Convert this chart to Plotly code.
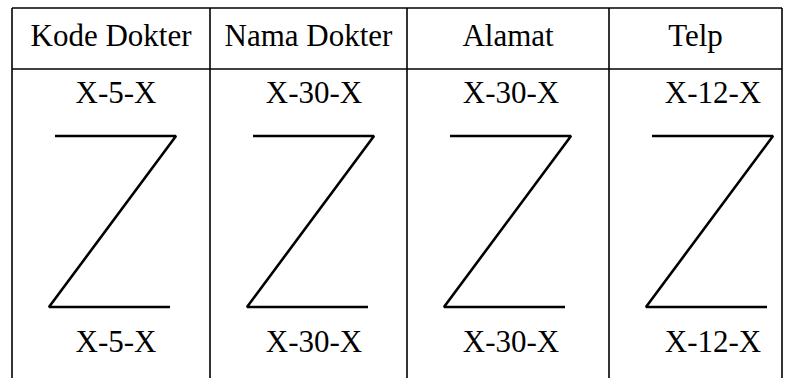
import plotly.graph_objects as go

# Data: field names and their sizes in the record layout
fields = ["Kode Dokter", "Nama Dokter", "Alamat", "Telp"]
sizes = [5, 30, 30, 12]
labels = ["X-%d-X" % s for s in sizes]

# Layout geometry (pixel space)
col_edges = [12, 210, 407, 609, 782]
top_y = 8
header_y = 69
bottom_y = 378

line_col = "#000000"
font = dict(family="Liberation Serif, Times New Roman, serif", size=31, color="#000000")

fig = go.Figure()

# table grid
grid_x, grid_y = [], []
grid_x += [col_edges[0], col_edges[-1], None, col_edges[0], col_edges[-1], None]
grid_y += [top_y, top_y, None, header_y, header_y, None]
for x in col_edges:
    grid_x += [x, x, None]
    grid_y += [top_y, bottom_y, None]
fig.add_trace(go.Scatter(x=grid_x, y=grid_y, mode="lines",
                         line=dict(color=line_col, width=1.6), hoverinfo="skip"))

# Z shapes in every column
z_x, z_y = [], []
for left in col_edges[:-1]:
    z_x += [left + 43, left + 164, left + 37, left + 158, None]
    z_y += [136, 136, 307, 307, None]
fig.add_trace(go.Scatter(x=z_x, y=z_y, mode="lines",
                         line=dict(color=line_col, width=2.6), hoverinfo="skip"))

# header text
centers = [(a + b) / 2 for a, b in zip(col_edges[:-1], col_edges[1:])]
fig.add_trace(go.Scatter(x=centers, y=[38] * 4, mode="text", text=fields,
                         textfont=font, hoverinfo="skip"))

# size labels above and below the Z
lab_x = [left + 104 for left in col_edges[:-1]]
fig.add_trace(go.Scatter(x=lab_x, y=[95] * 4, mode="text", text=labels,
                         textfont=font, hoverinfo="skip"))
fig.add_trace(go.Scatter(x=lab_x, y=[344] * 4, mode="text", text=labels,
                         textfont=font, hoverinfo="skip"))

fig.update_layout(
    width=797, height=378,
    margin=dict(l=0, r=0, t=0, b=0),
    paper_bgcolor="white", plot_bgcolor="white",
    showlegend=False,
    xaxis=dict(range=[0, 797], visible=False, fixedrange=True),
    yaxis=dict(range=[378, 0], visible=False, fixedrange=True),
)

# drop the default page margin so the figure sits at the window origin
fig.write_html("out.html", config={"displayModeBar": False},
               post_script="document.body.style.margin='0';")
